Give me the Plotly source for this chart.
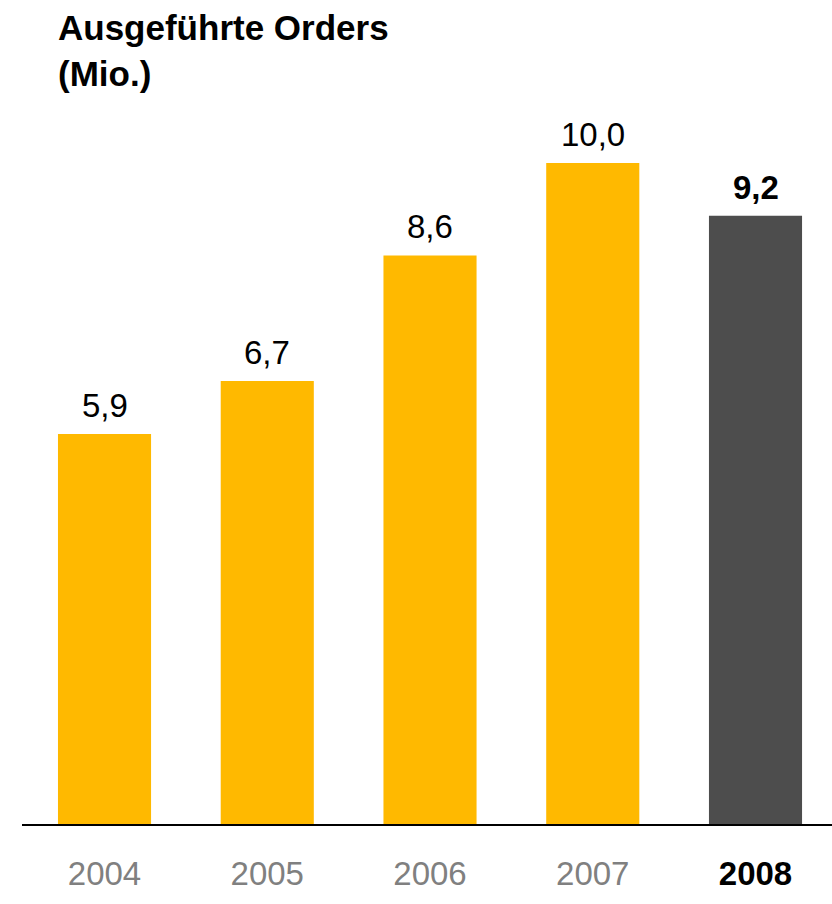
import plotly.graph_objects as go

years = ["2004", "2005", "2006", "2007", "2008"]
values = [5.9, 6.7, 8.6, 10.0, 9.2]
labels = ["5,9", "6,7", "8,6", "10,0", "9,2"]
bar_colors = ["#FFB900", "#FFB900", "#FFB900", "#FFB900", "#4D4D4D"]
title_text = "Ausgeführte Orders<br>(Mio.)"

FONT = "Liberation Sans, Arial, Helvetica, sans-serif"

W, H = 832, 904
ML, MR, MT, MB = 22, 0, 110, 80
PH = H - MT - MB
PW = W - ML - MR

fig = go.Figure()
fig.add_trace(go.Bar(
    x=list(range(len(years))), y=values,
    marker=dict(color=bar_colors, line=dict(width=0)),
    width=0.572, hoverinfo="skip",
))

for i, (v, lab) in enumerate(zip(values, labels)):
    bold = i == len(values) - 1
    fig.add_annotation(
        x=i, y=v, xref="x", yref="y",
        text=f"<b>{lab}</b>" if bold else lab,
        showarrow=False, yanchor="bottom", xanchor="center",
        yshift=8,
        font=dict(family=FONT, size=33, color="#000000"),
    )

fig.add_annotation(
    xref="paper", yref="paper",
    x=(56 - ML) / PW, y=1 + (MT - 6) / PH,
    xanchor="left", yanchor="top", align="left",
    text=f"<b>{title_text}</b>", showarrow=False,
    font=dict(family=FONT, size=35, color="#000000"),
)

ticktext = [y if i < len(years) - 1 else f"<span style='color:#000000'><b>{y}</b></span>"
            for i, y in enumerate(years)]

fig.update_layout(
    width=W, height=H,
    margin=dict(l=ML, r=MR, t=MT, b=MB),
    paper_bgcolor="white", plot_bgcolor="white",
    showlegend=False,
    xaxis=dict(
        range=[-0.507, 4.47],
        tickmode="array", tickvals=list(range(len(years))), ticktext=ticktext,
        showline=True, linecolor="#000000", linewidth=2,
        showgrid=False, zeroline=False,
        ticks="outside", ticklen=0, ticklabelstandoff=19,
        tickfont=dict(family=FONT, size=33, color="#808080"),
        fixedrange=True,
    ),
    yaxis=dict(
        range=[0, 10.80],
        visible=False, showgrid=False, zeroline=False,
        fixedrange=True,
    ),
)

fig.write_html(
    "out.html",
    config={"displayModeBar": False},
    post_script="document.body.style.margin='0';document.body.style.padding='0';",
)
